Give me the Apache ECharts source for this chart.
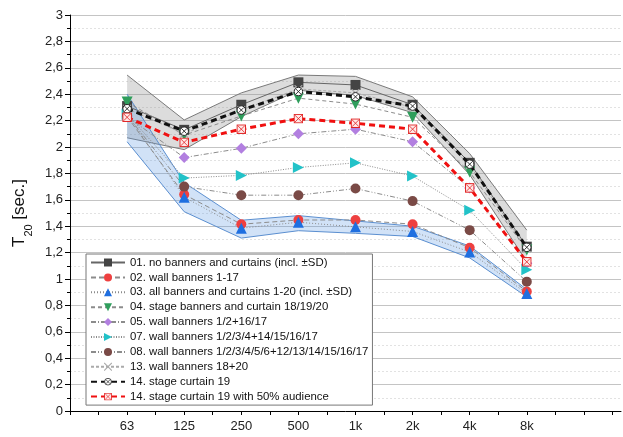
<!DOCTYPE html>
<html><head><meta charset="utf-8">
<script src="https://cdn.jsdelivr.net/npm/echarts@6/dist/echarts.min.js"></script>
<style>html,body{margin:0;padding:0;background:#fff}#c{width:623px;height:437px}</style>
</head><body><div id="c"></div>
<script>
var categories = ['63','125','250','500','1k','2k','4k','8k'];
var xPos = [1,2,3,4,5,6,7,8];
var yTicks = [0,0.2,0.4,0.6,0.8,1,1.2,1.4,1.6,1.8,2,2.2,2.4,2.6,2.8,3];

var s01   = [2.31, 2.13, 2.32, 2.49, 2.47, 2.32, 1.88, 1.245];
var s01lo = [2.07, 1.98, 2.23, 2.43, 2.39, 2.26, 1.79, 1.13];
var s01hi = [2.545, 2.205, 2.41, 2.545, 2.535, 2.38, 1.95, 1.37];
var s02   = [2.23, 1.64, 1.415, 1.447, 1.447, 1.415, 1.237, 0.905];
var s03   = [2.25, 1.62, 1.385, 1.43, 1.395, 1.36, 1.205, 0.89];
var s03lo = [2.04, 1.51, 1.31, 1.366, 1.346, 1.322, 1.16, 0.865];
var s03hi = [2.40, 1.73, 1.445, 1.48, 1.44, 1.40, 1.25, 0.92];
var s04   = [2.34, 2.09, 2.235, 2.37, 2.325, 2.225, 1.81, 1.22];
var s05   = [2.23, 1.92, 1.99, 2.10, 2.135, 2.04, 1.69, 1.12];
var s07   = [2.25, 1.765, 1.785, 1.845, 1.88, 1.78, 1.52, 1.07];
var s08   = [2.24, 1.70, 1.635, 1.635, 1.685, 1.59, 1.37, 0.98];
var s13   = [2.29, 2.10, 2.28, 2.44, 2.41, 2.30, 1.86, 1.23];
var s14   = [2.29, 2.12, 2.28, 2.42, 2.38, 2.31, 1.87, 1.24];
var s14a  = [2.225, 2.035, 2.135, 2.215, 2.18, 2.135, 1.69, 1.13];

var names = [
 '01. no banners and curtains (incl. \u00b1SD)',
 '02. wall banners 1-17',
 '03. all banners and curtains 1-20 (incl. \u00b1SD)',
 '04. stage banners and curtain 18/19/20',
 '05. wall banners 1/2+16/17',
 '07. wall banners 1/2/3/4+14/15/16/17',
 '08. wall banners 1/2/3/4/5/6+12/13/14/15/16/17',
 '13. wall banners 18+20',
 '14. stage curtain 19',
 '14. stage curtain 19 with 50% audience'
];

function pts(arr){ return arr.map(function(v,i){ return [xPos[i], v]; }); }
function bandData(lo, hi){ return lo.map(function(v,i){ return [xPos[i], v, hi[i]]; }); }
function svgImg(s){ return 'image://data:image/svg+xml;charset=utf-8,' + encodeURIComponent(s); }
var crossCircle = svgImg("<svg xmlns='http://www.w3.org/2000/svg' width='20' height='20' viewBox='0 0 20 20'><circle cx='10' cy='10' r='8.5' fill='#ffffff' stroke='#222' stroke-width='2'/><path d='M5 5L15 15M15 5L5 15' stroke='#222' stroke-width='1.8'/></svg>");
var crossSquare = svgImg("<svg xmlns='http://www.w3.org/2000/svg' width='20' height='20' viewBox='0 0 20 20'><rect x='1.5' y='1.5' width='17' height='17' fill='#ffe8e8' stroke='#e02020' stroke-width='2'/><path d='M3 3L17 17M17 3L3 17' stroke='#e02020' stroke-width='1.6'/></svg>");
var xMark = 'path://M0 0L1 0L5 4L9 0L10 0L10 1L6 5L10 9L10 10L9 10L5 6L1 10L0 10L0 9L4 5L0 1Z';

function bandSeries(lo, hi, fill, stroke){
 return {
  type:'custom', data:bandData(lo, hi), z:1, silent:true, clip:true,
  renderItem:function(params, api){
   if (params.dataIndex !== 0) return null;
   var top = [], bot = [];
   for (var j = 0; j < lo.length; j++){
    top.push(api.coord([api.value(0, j), api.value(2, j)]));
    bot.push(api.coord([api.value(0, j), api.value(1, j)]));
   }
   var poly = top.concat(bot.slice().reverse());
   return {type:'group', children:[
    {type:'polygon', shape:{points:poly}, style:{fill:fill, stroke:null}},
    {type:'polyline', shape:{points:top}, style:{fill:null, stroke:stroke, lineWidth:1}},
    {type:'polyline', shape:{points:bot}, style:{fill:null, stroke:stroke, lineWidth:1}}
   ]};
  }
 };
}

var thin = function(type, color){ return {width:1, color: color || '#8c8c8c', type: type}; };

var series = [
 bandSeries(s01lo, s01hi, 'rgba(140,140,140,0.3)', '#7a7a7a'),
 bandSeries(s03lo, s03hi, 'rgba(90,150,225,0.28)', '#5b8fd0'),
 {name:names[0], type:'line', data:pts(s01), symbol:'rect', symbolSize:10, itemStyle:{color:'#444'}, lineStyle:thin('solid','#666'), z:3},
 {name:names[1], type:'line', data:pts(s02), symbol:'circle', symbolSize:10, itemStyle:{color:'#ee4040'}, lineStyle:thin([5,3]), z:3},
 {name:names[2], type:'line', data:pts(s03), symbol:'triangle', symbolSize:11, itemStyle:{color:'#1f6fe0'}, lineStyle:thin([1,2]), z:3},
 {name:names[3], type:'line', data:pts(s04), symbol:'triangle', symbolRotate:180, symbolSize:11, itemStyle:{color:'#2f9e5c'}, lineStyle:thin([4,3]), z:3},
 {name:names[4], type:'line', data:pts(s05), symbol:'diamond', symbolSize:11, itemStyle:{color:'#b27fe0'}, lineStyle:thin([5,2,1,2]), z:3},
 {name:names[5], type:'line', data:pts(s07), symbol:'triangle', symbolRotate:-90, symbolSize:11, itemStyle:{color:'#22c2c8'}, lineStyle:thin([1,1.5]), z:3},
 {name:names[6], type:'line', data:pts(s08), symbol:'circle', symbolSize:10, itemStyle:{color:'#7a4a46'}, lineStyle:thin([5,2,1,2,1,2]), z:3},
 {name:names[7], type:'line', data:pts(s13), symbol:xMark, symbolSize:8, itemStyle:{color:'#aaaaaa'}, lineStyle:thin([3,2],'#aaaaaa'), z:3},
 {name:names[8], type:'line', data:pts(s14), symbol:crossCircle, symbolSize:10, itemStyle:{color:'#111'}, lineStyle:{width:3,color:'#111',type:[6,4]}, z:4},
 {name:names[9], type:'line', data:pts(s14a), symbol:crossSquare, symbolSize:10, itemStyle:{color:'#e02020'}, lineStyle:{width:3,color:'#f01010',type:[6,4]}, z:4}
];

var chart = echarts.init(document.getElementById('c'), null, {renderer:'canvas'});
chart.setOption({
 animation:false,
 backgroundColor:'#fff',
 textStyle:{fontFamily:'Liberation Sans, Arial, sans-serif'},
 grid:{left:70, right:2, top:15, bottom:26},
 xAxis:{
  type:'value', min:0, max:9.65, interval:0.5,
  axisLine:{lineStyle:{color:'#000', width:1}},
  axisTick:{show:true, length:4, lineStyle:{color:'#000'}},
  axisLabel:{fontSize:13, color:'#222', margin:9, showMaxLabel:false,
   formatter:function(v){ var i = xPos.indexOf(v); return i>=0 ? categories[i] : ''; }},
  splitLine:{show:false}
 },
 yAxis:{
  type:'value', min:yTicks[0], max:yTicks[yTicks.length-1], interval:0.2,
  axisLine:{show:true, lineStyle:{color:'#000', width:1}},
  axisTick:{show:true, length:5, lineStyle:{color:'#000'}},
  minorTick:{show:true, splitNumber:2, length:3, lineStyle:{color:'#000'}},
  axisLabel:{fontSize:13, color:'#222', margin:7,
   formatter:function(v){ return String(+v.toFixed(1)).replace('.', ','); }},
  splitLine:{show:true, lineStyle:{color:'#c4c4c4', width:1}},
  minorSplitLine:{show:true, lineStyle:{color:'#e2e2e2', type:[2,2]}},
  name:'{a|T}{b|20}{a| [sec.]}', nameLocation:'middle', nameGap:37, nameRotate:90,
  nameTextStyle:{rich:{a:{fontSize:17, color:'#111', fontFamily:'Liberation Sans'}, b:{fontSize:11, color:'#111', verticalAlign:'bottom', padding:[0,0,-6,0], fontFamily:'Liberation Sans'}}}
 },
 legend:{
  data:names, orient:'vertical', left:86, top:254,
  itemWidth:34, itemHeight:10, itemGap:3.9,
  padding:[3,4,3,4],
  backgroundColor:'#fff', borderColor:'#777', borderWidth:1, borderRadius:0,
  textStyle:{fontSize:11.4, color:'#111', lineHeight:10, fontFamily:'Liberation Sans'},
  selectedMode:false
 },
 series:series
});
</script></body></html>
